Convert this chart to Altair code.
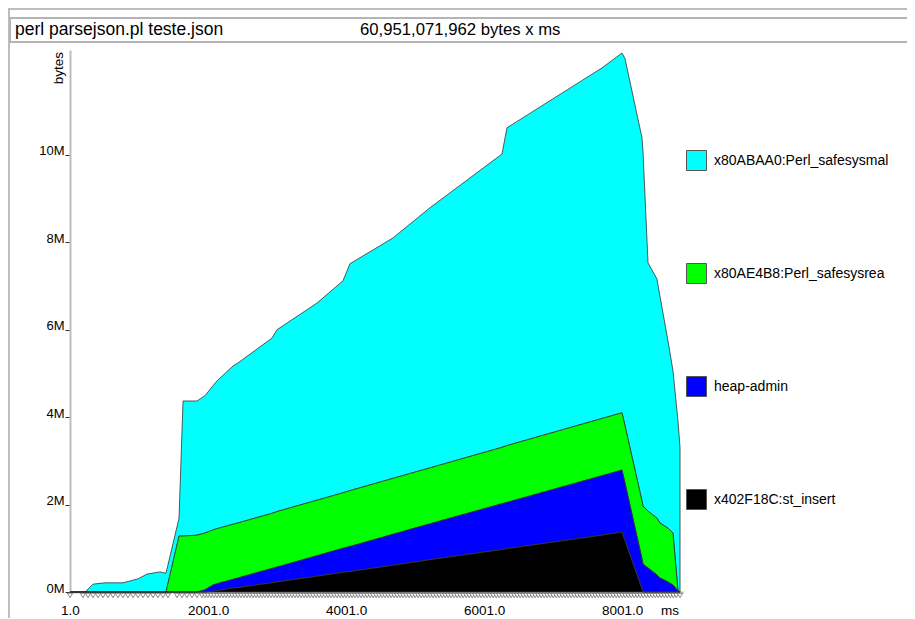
import altair as alt
import pandas as pd

FONT = "Liberation Sans, Helvetica, Arial, sans-serif"

TITLE_LEFT = "perl parsejson.pl teste.json"
TITLE_RIGHT = "60,951,071,962 bytes x ms"
Y_TITLE = "bytes"
X_UNIT = "ms"

SERIES = ["x80ABAA0:Perl_safesysmal", "x80AE4B8:Perl_safesysrea", "heap-admin", "x402F18C:st_insert"]
COLORS = ["#00ffff", "#00ff00", "#0000ff", "#000000"]

X_TICKS = [1, 2001, 4001, 6001, 8001]
Y_TICKS = [0, 2, 4, 6, 8, 10]

# sample times (ms)
TIME_MS = [1, 220, 334, 508, 769, 986, 1117, 1305, 1392, 1581, 1639, 1841, 1957, 2073, 2131,
           2363, 2435, 2928, 3000, 3580, 3957, 4058, 4681, 5217, 6261, 6333, 7710, 8000, 8044,
           8290, 8304, 8377, 8507, 8550, 8667, 8739, 8768, 8812, 8841]
# top edge of each stacked band (millions of bytes)
TOP_SAFESYSMAL = [0, 0, 0.18, 0.21, 0.21, 0.30, 0.41, 0.46, 0.43, 1.69, 4.37, 4.37, 4.49, 4.72, 4.83,
                  5.17, 5.24, 5.81, 6.00, 6.61, 7.12, 7.51, 8.10, 8.79, 10.02, 10.62, 11.99, 12.33, 12.20,
                  10.39, 10.09, 7.53, 7.16, 6.77, 5.74, 5.06, 4.60, 3.90, 3.30]
TOP_SAFESYSREA = [0, 0, 0, 0, 0, 0, 0, 0, 0, 1.28, 1.28, 1.30, 1.35, 1.42, 1.45,
                  1.55, 1.58, 1.80, 1.84, 2.10, 2.27, 2.32, 2.60, 2.84, 3.31, 3.35, 3.97, 4.10, 3.80,
                  2.08, 1.97, 1.85, 1.69, 1.58, 1.46, 1.35, 0.82, 0.02, 0]
TOP_HEAP_ADMIN = [0, 0, 0, 0, 0, 0, 0, 0, 0, 0, 0, 0, 0.05, 0.16, 0.19,
                  0.29, 0.32, 0.54, 0.57, 0.83, 1.00, 1.04, 1.32, 1.56, 2.02, 2.05, 2.66, 2.79, 2.49,
                  0.76, 0.64, 0.55, 0.39, 0.32, 0.23, 0.16, 0.11, 0.02, 0]
TOP_ST_INSERT = [0, 0, 0, 0, 0, 0, 0, 0, 0, 0, 0, 0, 0, 0.02, 0.03,
                 0.09, 0.10, 0.21, 0.23, 0.36, 0.45, 0.47, 0.61, 0.74, 0.97, 0.99, 1.30, 1.37, 1.17,
                 0.07, 0, 0, 0, 0, 0, 0, 0, 0, 0]

# sample markers along the time axis (ms)
MARKER_MS = [1, 189, 262, 334, 407, 479, 552, 624, 697, 769, 841, 914, 986, 1059, 1131, 1204, 1276,
             1349, 1421, 1551, 1624, 1696, 1769, 1841, 1914,
             1957, 2000, 2044, 2087, 2131, 2175, 2218, 2262, 2305, 2349, 2392, 2436, 2479, 2523,
             2566, 2610, 2653, 2697, 2740, 2784, 2827, 2871, 2914, 2958, 3001, 3045, 3088, 3132,
             3175, 3219, 3262, 3306, 3349, 3393, 3436, 3480, 3523, 3567, 3610, 3654, 3697, 3741,
             3784, 3828, 3871, 3915, 3958, 4002, 4045, 4089, 4132, 4176, 4219, 4263, 4306, 4350,
             4393, 4437, 4480, 4524, 4567, 4611, 4654, 4698, 4741, 4785, 4828, 4872, 4915, 4959,
             5002, 5046, 5089, 5133, 5176, 5220, 5263, 5307, 5350, 5394, 5437, 5481, 5524, 5568,
             5611, 5655, 5698, 5742, 5785, 5829, 5872, 5916, 5959, 6003, 6046, 6090, 6133, 6177,
             6220, 6264, 6307, 6351, 6394, 6438, 6481, 6525, 6568, 6612, 6655, 6699, 6742, 6786,
             6829, 6873, 6916, 6960, 7003, 7047, 7090, 7134, 7177, 7221, 7264, 7308, 7351, 7395,
             7438, 7482, 7525, 7569, 7612, 7656, 7699, 7743, 7786, 7830, 7873, 7917, 7960, 8004,
             8047, 8091, 8134, 8178, 8221, 8265, 8308, 8352, 8395, 8439, 8482, 8526, 8569, 8613,
             8656, 8700, 8743, 8787, 8841]

X_MAX = 8884
Y_MAX = 12.40
W, H = 613, 542

# band thickness from the stacked top edges
tops = [TOP_SAFESYSMAL, TOP_SAFESYSREA, TOP_HEAP_ADMIN, TOP_ST_INSERT, [0] * len(TIME_MS)]
rows = []
for i, name in enumerate(SERIES):
    for t, a, b in zip(TIME_MS, tops[i], tops[i + 1]):
        rows.append({"ms": t, "series": name, "value": max(a - b, 0), "rank": len(SERIES) - i})
df = pd.DataFrame(rows)

xscale = alt.Scale(domain=[1, X_MAX], nice=False, zero=False)
yscale = alt.Scale(domain=[0, Y_MAX], nice=False, zero=False)
xaxis = alt.Axis(values=X_TICKS, format=".1f", title=None, ticks=False, tickSize=0, labelPadding=11,
                 labelFontSize=13.5, labelColor="#000", labelFlush=False, labelFont=FONT,
                 domainColor="#bdbdbd", domainWidth=2, grid=False)
yaxis = alt.Axis(values=Y_TICKS, labelExpr="datum.value + 'M'", title=None, tickSize=5, tickColor="#333",
                 tickWidth=1, labelPadding=1, labelBaseline="alphabetic", labelFontSize=13, labelColor="#000",
                 labelFont=FONT, domainColor="#bdbdbd", domainWidth=2, grid=False)

areas = alt.Chart(df).mark_area(stroke="#333333", strokeWidth=0.8, interpolate="linear").encode(
    x=alt.X("ms:Q", scale=xscale, axis=xaxis),
    y=alt.Y("value:Q", stack="zero", scale=yscale, axis=yaxis),
    order=alt.Order("rank:Q"),
    color=alt.Color("series:N", scale=alt.Scale(domain=SERIES, range=COLORS),
                    legend=alt.Legend(title=None, orient="none", legendX=616, legendY=100,
                                      symbolType="square", symbolSize=400, symbolStrokeColor="#555",
                                      symbolStrokeWidth=1, symbolOpacity=1, labelFontSize=14,
                                      labelFont=FONT, labelColor="#000", rowPadding=88, labelOffset=7,
                                      padding=0, labelLimit=300)),
)

markers = alt.Chart(pd.DataFrame({"ms": MARKER_MS})).mark_point(
    shape="triangle-down", filled=True, fill="white", stroke="#555", strokeWidth=0.7, size=26, opacity=1
).encode(x=alt.X("ms:Q", scale=xscale, axis=xaxis), y=alt.value(H + 3.5))

one = pd.DataFrame({"k": [0]})
frame_top = alt.Chart(one).mark_rule(color="#bdbdbd", strokeWidth=2).encode(
    x=alt.value(-62), x2=alt.value(840), y=alt.value(-41))
frame_left = alt.Chart(one).mark_rule(color="#bdbdbd", strokeWidth=2).encode(
    x=alt.value(-61), y=alt.value(-42), y2=alt.value(H + 40))
title_box = alt.Chart(one).mark_rect(fillOpacity=0, stroke="#b4b4b4", strokeWidth=2).encode(
    x=alt.value(-60), x2=alt.value(850), y=alt.value(-32), y2=alt.value(-8))

t_left = alt.Chart(pd.DataFrame({"t": [TITLE_LEFT]})).mark_text(
    align="left", baseline="alphabetic", fontSize=17.5, font=FONT, color="#000").encode(
    x=alt.value(-55), y=alt.value(-15), text="t:N")
t_right = alt.Chart(pd.DataFrame({"t": [TITLE_RIGHT]})).mark_text(
    align="left", baseline="alphabetic", fontSize=16.7, font=FONT, color="#000").encode(
    x=alt.value(290), y=alt.value(-15), text="t:N")
y_title = alt.Chart(pd.DataFrame({"t": [Y_TITLE]})).mark_text(
    align="right", baseline="alphabetic", angle=270, fontSize=13.5, font=FONT, color="#000").encode(
    x=alt.value(-7), y=alt.value(2), text="t:N")
ms_text = alt.Chart(pd.DataFrame({"t": [X_UNIT]})).mark_text(
    align="center", baseline="alphabetic", fontSize=13.5, font=FONT, color="#000").encode(
    x=alt.value(600), y=alt.value(H + 23), text="t:N")

chart = alt.layer(frame_top, frame_left, title_box, t_left, t_right, areas, markers, y_title, ms_text).properties(
    width=W, height=H,
    padding={"left": 62, "top": 42, "right": 224, "bottom": 26},
    autosize=alt.AutoSizeParams(type="none"),
).configure(
    font=FONT, background="white",
    view=alt.ViewConfig(stroke="transparent", strokeWidth=0),
)

chart.save("out.html", embed_options={"renderer": "svg", "actions": False})
